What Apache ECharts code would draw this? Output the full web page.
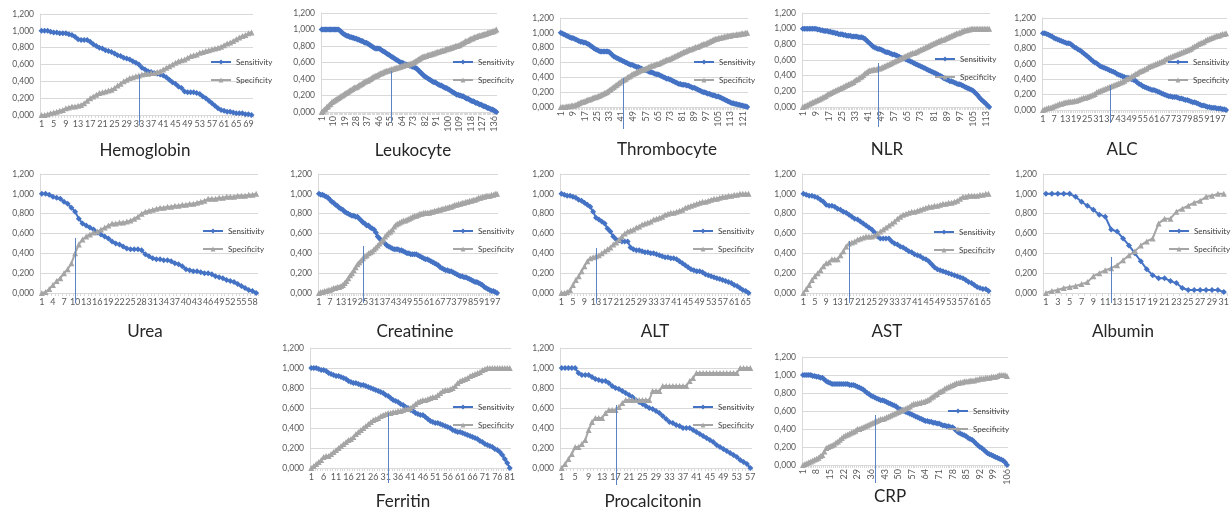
<!DOCTYPE html>
<html><head><meta charset="utf-8">
<script src="https://cdn.jsdelivr.net/npm/echarts@6/dist/echarts.min.js"></script>
<style>html,body{margin:0;padding:0;background:#fff}#c{width:1232px;height:510px}</style>
</head><body><div id="c"></div>
<script>
// ---------------- DATA ----------------
const panelNames = ['Hemoglobin','Leukocyte','Thrombocyte','NLR','ALC','Urea','Creatinine','ALT','AST','Albumin','Ferritin','Procalcitonin','CRP'];
const seriesNames = ['Sensitivity','Specificity'];
const yTickLabels = ['0,000','0,200','0,400','0,600','0,800','1,000','1,200'];

const hemoglobinSens = [1.00,1.00,1.00,0.99,0.98,0.98,0.97,0.97,0.97,0.96,0.95,0.93,0.90,0.89,0.89,0.89,0.87,0.84,0.82,0.80,0.79,0.77,0.76,0.75,0.73,0.71,0.70,0.68,0.67,0.66,0.64,0.62,0.60,0.56,0.54,0.52,0.51,0.50,0.49,0.48,0.47,0.45,0.42,0.39,0.37,0.34,0.32,0.28,0.27,0.27,0.27,0.26,0.25,0.22,0.20,0.17,0.14,0.11,0.08,0.06,0.05,0.04,0.04,0.03,0.02,0.02,0.02,0.01,0.01,0.00];
const hemoglobinSpec = [0.00,0.00,0.01,0.02,0.03,0.04,0.05,0.06,0.08,0.09,0.10,0.10,0.11,0.12,0.14,0.17,0.20,0.22,0.24,0.26,0.27,0.28,0.29,0.30,0.32,0.35,0.37,0.40,0.42,0.44,0.45,0.46,0.47,0.48,0.49,0.49,0.50,0.50,0.51,0.52,0.54,0.56,0.58,0.60,0.62,0.64,0.65,0.66,0.68,0.70,0.71,0.72,0.74,0.75,0.76,0.77,0.78,0.79,0.80,0.81,0.83,0.85,0.86,0.88,0.90,0.92,0.94,0.95,0.97,0.98];

const leukocyteSens = [1.00,1.00,1.00,1.00,1.00,1.00,1.00,1.00,1.00,1.00,1.00,1.00,1.00,1.00,0.99,0.98,
0.96,0.95,0.94,0.93,0.92,0.92,0.91,0.91,0.90,0.90,0.89,0.89,0.88,0.88,
0.87,0.86,0.86,0.85,0.84,0.84,0.83,0.82,0.81,0.80,0.79,0.78,0.77,0.77,0.77,0.77,
0.76,0.75,0.74,0.73,0.72,0.71,0.70,0.69,0.68,0.67,0.66,0.65,0.64,0.63,
0.62,0.61,0.60,0.60,0.59,0.58,0.58,0.57,0.57,0.56,0.56,0.55,0.55,0.54,0.53,
0.52,0.50,0.49,0.47,0.46,0.44,0.43,0.42,0.41,0.40,0.39,0.38,0.37,0.36,0.36,
0.35,0.34,0.33,0.32,0.32,0.31,0.30,0.29,0.29,0.28,0.27,0.26,0.25,0.24,0.23,
0.22,0.21,0.21,0.20,0.20,0.19,0.19,0.18,0.17,0.16,0.16,0.15,0.14,0.13,0.13,
0.12,0.11,0.11,0.10,0.09,0.09,0.08,0.07,0.07,0.06,0.05,0.05,0.04,0.03,0.03,0.02,0.01,0.00];
const leukocyteSpec = [0.00,0.01,0.03,0.04,0.06,0.07,0.09,0.10,0.12,0.13,0.14,0.15,0.16,0.17,0.18,
0.19,0.20,0.21,0.22,0.23,0.24,0.25,0.26,0.27,0.28,0.29,0.30,0.30,0.31,0.32,
0.33,0.34,0.35,0.36,0.37,0.38,0.38,0.39,0.40,0.41,0.42,0.43,0.44,0.44,0.45,
0.46,0.47,0.47,0.48,0.49,0.49,0.50,0.50,0.51,0.51,0.52,0.52,0.53,0.53,0.54,
0.54,0.55,0.55,0.56,0.56,0.57,0.57,0.57,0.58,0.58,0.59,0.59,0.60,0.61,0.62,
0.63,0.64,0.65,0.66,0.67,0.67,0.68,0.68,0.69,0.69,0.70,0.70,0.71,0.71,0.72,
0.72,0.73,0.73,0.74,0.74,0.75,0.75,0.76,0.76,0.77,0.77,0.78,0.78,0.79,0.79,
0.80,0.80,0.81,0.81,0.82,0.83,0.84,0.85,0.86,0.86,0.87,0.88,0.89,0.89,0.90,
0.91,0.91,0.92,0.92,0.93,0.93,0.94,0.94,0.95,0.95,0.96,0.96,0.97,0.97,0.98,0.98,0.99,1.00];

const thrombocyteSens = [1.00,0.99,0.98,0.97,0.96,0.95,0.94,0.93,
0.93,0.92,0.91,0.90,0.89,0.88,0.88,0.87,
0.87,0.86,0.85,0.84,0.82,0.81,0.79,0.78,
0.77,0.76,0.75,0.75,0.75,0.75,0.75,0.75,
0.74,0.72,0.70,0.68,0.67,0.66,0.65,0.64,
0.63,0.62,0.61,0.60,0.59,0.58,0.57,0.57,
0.56,0.55,0.54,0.54,0.53,0.52,0.51,0.50,
0.50,0.49,0.48,0.47,0.47,0.46,0.45,0.44,
0.44,0.43,0.42,0.41,0.40,0.39,0.38,0.38,
0.37,0.36,0.35,0.34,0.33,0.32,0.31,0.31,
0.30,0.30,0.30,0.29,0.29,0.28,0.27,0.26,
0.26,0.25,0.24,0.23,0.22,0.21,0.20,0.20,
0.19,0.18,0.18,0.17,0.16,0.16,0.15,0.14,
0.14,0.13,0.12,0.11,0.10,0.09,0.08,0.07,
0.06,0.05,0.05,0.04,0.04,0.03,0.03,0.02,
0.02,0.01,0.01,0.00];
const thrombocyteSpec = [0.00,0.00,0.00,0.00,0.01,0.01,0.01,0.02,
0.02,0.02,0.03,0.04,0.05,0.06,0.07,0.07,
0.08,0.09,0.10,0.10,0.11,0.12,0.13,0.13,
0.14,0.15,0.16,0.17,0.18,0.19,0.20,0.21,
0.23,0.24,0.26,0.27,0.29,0.30,0.32,0.33,
0.35,0.36,0.37,0.38,0.40,0.41,0.42,0.44,
0.45,0.46,0.47,0.48,0.49,0.50,0.51,0.51,
0.52,0.53,0.54,0.55,0.56,0.56,0.57,0.58,
0.58,0.59,0.60,0.61,0.62,0.63,0.64,0.64,
0.65,0.66,0.67,0.68,0.69,0.70,0.71,0.72,
0.73,0.74,0.75,0.76,0.77,0.78,0.78,0.79,
0.80,0.81,0.81,0.82,0.83,0.84,0.85,0.85,
0.86,0.87,0.88,0.89,0.90,0.91,0.92,0.92,
0.93,0.93,0.94,0.94,0.95,0.95,0.96,0.96,
0.96,0.97,0.97,0.97,0.98,0.98,0.98,0.99,
0.99,0.99,1.00,1.00];

const nlrSens = [1.00,1.00,1.00,1.00,1.00,1.00,1.00,1.00,1.00,0.99,
0.99,0.98,0.98,0.97,0.97,0.97,0.96,0.96,0.95,0.95,
0.94,0.94,0.93,0.93,0.93,0.92,0.92,0.91,0.91,0.91,
0.90,0.90,0.90,0.90,0.89,0.89,0.89,0.88,0.87,0.85,
0.83,0.81,0.79,0.77,0.76,0.75,0.74,0.74,0.73,0.72,
0.71,0.70,0.70,0.69,0.68,0.67,0.67,0.66,0.65,0.64,
0.63,0.62,0.62,0.61,0.60,0.59,0.58,0.57,0.56,0.55,
0.54,0.53,0.52,0.51,0.50,0.49,0.48,0.47,0.46,0.45,
0.44,0.43,0.42,0.41,0.40,0.39,0.37,0.36,0.35,0.34,
0.33,0.33,0.32,0.31,0.30,0.29,0.29,0.28,0.27,0.26,
0.25,0.24,0.23,0.22,0.21,0.19,0.17,0.15,0.12,0.10,
0.08,0.06,0.04,0.02,0.00];
const nlrSpec = [0.00,0.01,0.02,0.03,0.04,0.05,0.06,0.07,0.08,0.09,
0.10,0.11,0.12,0.13,0.14,0.16,0.17,0.18,0.19,0.20,
0.21,0.22,0.23,0.24,0.25,0.26,0.27,0.28,0.29,0.30,
0.31,0.32,0.34,0.35,0.36,0.38,0.39,0.41,0.43,0.44,
0.46,0.47,0.47,0.48,0.48,0.48,0.49,0.49,0.50,0.51,
0.52,0.53,0.54,0.55,0.56,0.57,0.58,0.59,0.60,0.61,
0.62,0.63,0.64,0.65,0.66,0.67,0.68,0.69,0.69,0.70,
0.71,0.72,0.73,0.74,0.75,0.76,0.77,0.78,0.79,0.80,
0.81,0.82,0.83,0.84,0.85,0.86,0.86,0.87,0.88,0.89,
0.90,0.91,0.92,0.93,0.94,0.94,0.95,0.96,0.97,0.98,
0.98,0.99,0.99,1.00,1.00,1.00,1.00,1.00,1.00,1.00,
1.00,1.00,1.00,1.00,1.00];

const alcSens = [1.00,1.00,0.99,0.98,0.97,0.96,0.94,0.93,0.92,0.91,
0.90,0.89,0.88,0.87,0.87,0.86,0.84,0.82,0.81,0.79,
0.78,0.76,0.74,0.72,0.70,0.68,0.66,0.64,0.62,0.61,
0.59,0.57,0.56,0.55,0.54,0.53,0.52,0.51,0.50,0.49,
0.47,0.46,0.45,0.44,0.43,0.42,0.42,0.41,0.40,0.39,
0.38,0.36,0.34,0.33,0.31,0.30,0.29,0.28,0.27,0.26,
0.26,0.25,0.24,0.23,0.22,0.21,0.20,0.19,0.18,0.18,
0.17,0.17,0.17,0.16,0.15,0.15,0.14,0.13,0.13,0.12,
0.11,0.10,0.10,0.09,0.08,0.07,0.06,0.06,0.05,0.04,
0.04,0.03,0.03,0.03,0.02,0.02,0.02,0.01,0.01,0.00];
const alcSpec = [0.00,0.01,0.02,0.03,0.03,0.04,0.05,0.06,0.07,0.08,
0.08,0.09,0.10,0.10,0.11,0.11,0.11,0.12,0.12,0.13,
0.14,0.15,0.16,0.16,0.17,0.18,0.19,0.20,0.21,0.23,
0.24,0.25,0.26,0.27,0.28,0.29,0.30,0.31,0.32,0.33,
0.34,0.35,0.36,0.37,0.38,0.40,0.41,0.42,0.44,0.45,
0.47,0.48,0.50,0.51,0.52,0.53,0.54,0.56,0.57,0.58,
0.59,0.60,0.61,0.62,0.63,0.64,0.66,0.67,0.68,0.69,
0.70,0.71,0.72,0.73,0.74,0.75,0.76,0.77,0.78,0.79,
0.80,0.82,0.83,0.84,0.86,0.87,0.88,0.89,0.91,0.92,
0.93,0.94,0.95,0.96,0.97,0.97,0.98,0.99,0.99,1.00];

const ureaSens = [1.00,1.00,0.99,0.97,0.96,0.95,0.92,0.90,0.86,0.82,
0.75,0.70,0.68,0.66,0.64,0.61,0.59,0.57,0.55,0.52,
0.50,0.49,0.47,0.45,0.44,0.44,0.44,0.43,0.39,0.37,
0.35,0.34,0.34,0.33,0.33,0.32,0.30,0.29,0.27,0.24,
0.23,0.22,0.22,0.21,0.20,0.20,0.19,0.17,0.16,0.15,
0.13,0.12,0.11,0.09,0.07,0.05,0.03,0.02,0.00];
const ureaSpec = [0.00,0.01,0.04,0.08,0.12,0.15,0.20,0.24,0.30,0.40,
0.49,0.54,0.57,0.59,0.61,0.62,0.64,0.66,0.68,0.70,
0.70,0.71,0.71,0.72,0.73,0.75,0.77,0.80,0.82,0.83,
0.84,0.85,0.86,0.86,0.87,0.87,0.88,0.88,0.89,0.89,
0.90,0.90,0.91,0.92,0.93,0.95,0.95,0.95,0.96,0.96,
0.97,0.97,0.97,0.98,0.98,0.98,0.99,0.99,1.00];

const creatinineSens = [1.00,0.99,0.99,0.98,0.97,0.96,0.94,0.92,0.91,0.89,
0.88,0.86,0.85,0.84,0.82,0.81,0.80,0.79,0.78,0.78,
0.77,0.77,0.75,0.73,0.71,0.70,0.68,0.68,0.66,0.65,
0.64,0.61,0.57,0.55,0.53,0.52,0.50,0.48,0.47,0.46,
0.45,0.44,0.44,0.44,0.43,0.43,0.42,0.41,0.40,0.40,
0.39,0.39,0.39,0.39,0.38,0.37,0.36,0.35,0.34,0.34,
0.33,0.32,0.31,0.30,0.29,0.28,0.26,0.25,0.24,0.23,
0.23,0.22,0.22,0.21,0.20,0.19,0.18,0.17,0.17,0.16,
0.16,0.15,0.14,0.13,0.12,0.11,0.11,0.10,0.09,0.08,
0.06,0.05,0.04,0.03,0.02,0.02,0.01,0.00];
const creatinineSpec = [0.00,0.01,0.01,0.02,0.02,0.03,0.03,0.04,0.05,0.05,
0.06,0.06,0.07,0.08,0.10,0.12,0.15,0.18,0.20,0.23,
0.26,0.29,0.31,0.33,0.35,0.37,0.38,0.40,0.41,0.42,
0.44,0.46,0.48,0.50,0.52,0.54,0.57,0.59,0.61,0.62,
0.64,0.67,0.69,0.70,0.71,0.72,0.73,0.73,0.74,0.75,
0.76,0.77,0.78,0.78,0.79,0.80,0.80,0.81,0.81,0.81,
0.81,0.82,0.82,0.83,0.83,0.84,0.84,0.85,0.85,0.86,
0.86,0.87,0.87,0.88,0.89,0.89,0.90,0.90,0.91,0.91,
0.92,0.92,0.93,0.93,0.94,0.94,0.95,0.96,0.96,0.97,
0.97,0.98,0.98,0.98,0.99,0.99,1.00,1.00];

const altSens = [1.00,0.99,0.98,0.98,0.97,0.96,0.94,0.93,0.91,0.89,
0.87,0.82,0.76,0.74,0.72,0.70,0.65,0.62,0.57,0.54,
0.53,0.52,0.52,0.52,0.46,0.44,0.43,0.43,0.42,0.41,
0.41,0.40,0.40,0.39,0.38,0.37,0.36,0.36,0.35,0.35,
0.34,0.32,0.30,0.28,0.26,0.24,0.23,0.22,0.22,0.21,
0.19,0.18,0.17,0.16,0.15,0.14,0.13,0.12,0.11,0.10,
0.08,0.07,0.05,0.03,0.02,0.00];
const altSpec = [0.00,0.00,0.01,0.03,0.08,0.13,0.17,0.22,0.27,0.32,
0.35,0.36,0.37,0.38,0.40,0.42,0.44,0.46,0.49,0.51,
0.54,0.57,0.60,0.62,0.63,0.64,0.66,0.67,0.69,0.70,
0.71,0.72,0.74,0.75,0.76,0.77,0.79,0.80,0.81,0.81,
0.82,0.83,0.84,0.86,0.87,0.88,0.89,0.90,0.91,0.92,
0.92,0.93,0.94,0.95,0.95,0.96,0.97,0.97,0.98,0.98,
0.99,0.99,1.00,1.00,1.00,1.00];

const astSens = [1.00,0.99,0.98,0.98,0.97,0.96,0.94,0.92,0.89,0.88,
0.88,0.87,0.85,0.84,0.82,0.81,0.79,0.77,0.75,0.74,
0.72,0.70,0.68,0.66,0.64,0.61,0.57,0.55,0.55,0.55,
0.55,0.52,0.50,0.49,0.47,0.46,0.44,0.42,0.41,0.39,
0.38,0.37,0.35,0.34,0.32,0.29,0.26,0.24,0.23,0.22,
0.21,0.20,0.19,0.18,0.17,0.16,0.15,0.13,0.11,0.10,
0.08,0.06,0.05,0.04,0.04,0.02];
const astSpec = [0.00,0.04,0.08,0.13,0.17,0.20,0.23,0.27,0.30,0.31,
0.34,0.34,0.34,0.38,0.42,0.47,0.50,0.51,0.52,0.54,
0.55,0.56,0.57,0.57,0.57,0.58,0.60,0.62,0.64,0.66,
0.68,0.70,0.72,0.75,0.77,0.79,0.80,0.81,0.82,0.82,
0.83,0.84,0.85,0.86,0.87,0.87,0.88,0.88,0.89,0.90,
0.90,0.91,0.91,0.92,0.93,0.95,0.97,0.97,0.98,0.98,
0.98,0.98,0.99,0.99,1.00,1.00];

const albuminSens = [1.00,1.00,1.00,1.00,1.00,0.97,0.92,0.88,0.84,0.79,0.77,0.64,0.62,0.55,0.48,0.40,0.32,0.24,0.18,0.15,0.15,0.12,0.10,0.05,0.03,0.03,0.03,0.03,0.03,0.03,0.01];
const albuminSpec = [0.00,0.02,0.03,0.05,0.06,0.07,0.09,0.11,0.17,0.20,0.23,0.25,0.28,0.33,0.38,0.42,0.48,0.52,0.55,0.70,0.75,0.75,0.82,0.85,0.88,0.91,0.93,0.97,0.98,1.00,1.00];

const ferritinSens = [1.00,1.00,1.00,0.99,0.98,0.98,0.97,0.95,0.94,0.93,
0.92,0.92,0.91,0.90,0.89,0.87,0.86,0.85,0.85,0.84,
0.83,0.83,0.82,0.81,0.80,0.79,0.78,0.77,0.76,0.75,
0.73,0.72,0.70,0.68,0.67,0.66,0.64,0.63,0.61,0.60,
0.58,0.57,0.55,0.54,0.53,0.53,0.51,0.49,0.47,0.46,
0.45,0.45,0.44,0.43,0.42,0.41,0.40,0.38,0.37,0.36,
0.36,0.35,0.34,0.33,0.32,0.31,0.30,0.29,0.27,0.26,
0.24,0.23,0.22,0.21,0.19,0.18,0.16,0.13,0.09,0.05,0.00];
const ferritinSpec = [0.00,0.02,0.04,0.06,0.08,0.11,0.12,0.12,0.14,0.16,
0.18,0.20,0.22,0.24,0.26,0.28,0.29,0.31,0.34,0.36,
0.38,0.40,0.42,0.44,0.46,0.48,0.49,0.50,0.52,0.53,
0.54,0.55,0.55,0.56,0.56,0.57,0.57,0.58,0.59,0.59,
0.60,0.62,0.64,0.66,0.67,0.68,0.68,0.69,0.70,0.71,
0.71,0.73,0.75,0.77,0.78,0.78,0.79,0.80,0.82,0.85,
0.87,0.88,0.89,0.90,0.92,0.93,0.94,0.95,0.96,0.98,
0.99,1.00,1.00,1.00,1.00,1.00,1.00,1.00,1.00,1.00,1.00];

const procalcitoninSens = [1.00,1.00,1.00,1.00,1.00,0.95,0.93,0.93,0.93,0.91,
0.89,0.88,0.87,0.87,0.85,0.82,0.80,0.79,0.77,0.75,
0.73,0.71,0.68,0.66,0.64,0.62,0.60,0.59,0.57,0.55,
0.52,0.49,0.46,0.45,0.43,0.42,0.40,0.40,0.40,0.38,
0.36,0.34,0.32,0.30,0.28,0.26,0.23,0.21,0.19,0.17,
0.15,0.13,0.11,0.08,0.06,0.04,0.00];
const procalcitoninSpec = [0.00,0.04,0.09,0.14,0.21,0.21,0.24,0.28,0.38,0.46,
0.50,0.50,0.50,0.55,0.58,0.58,0.58,0.61,0.65,0.68,
0.68,0.68,0.68,0.68,0.68,0.68,0.68,0.77,0.77,0.77,
0.82,0.82,0.82,0.82,0.82,0.82,0.82,0.82,0.87,0.90,
0.95,0.95,0.95,0.95,0.95,0.95,0.95,0.95,0.95,0.95,
0.95,0.95,0.95,1.00,1.00,1.00,1.00];

const crpSens = [1.00,1.00,1.00,1.00,1.00,0.99,0.99,0.98,0.98,0.97,
0.97,0.95,0.93,0.92,0.91,0.90,0.90,0.90,0.90,0.90,
0.90,0.90,0.90,0.90,0.89,0.89,0.89,0.88,0.87,0.86,
0.85,0.84,0.82,0.80,0.79,0.77,0.76,0.75,0.74,0.73,
0.72,0.72,0.71,0.70,0.69,0.68,0.67,0.66,0.65,0.63,
0.62,0.61,0.60,0.59,0.58,0.57,0.56,0.55,0.54,0.53,
0.52,0.51,0.50,0.49,0.49,0.48,0.48,0.47,0.47,0.46,
0.46,0.45,0.44,0.44,0.43,0.43,0.42,0.42,0.40,0.38,
0.36,0.35,0.34,0.33,0.32,0.30,0.29,0.28,0.26,0.24,
0.22,0.20,0.19,0.17,0.15,0.13,0.12,0.11,0.10,0.09,
0.08,0.07,0.06,0.05,0.03,0.00];
const crpSpec = [0.00,0.01,0.02,0.03,0.04,0.05,0.06,0.07,0.08,0.10,
0.11,0.15,0.19,0.20,0.21,0.22,0.23,0.25,0.26,0.28,
0.30,0.32,0.33,0.34,0.35,0.36,0.37,0.38,0.40,0.40,
0.41,0.42,0.43,0.44,0.45,0.46,0.47,0.48,0.49,0.50,
0.51,0.51,0.52,0.53,0.54,0.55,0.56,0.57,0.58,0.59,
0.60,0.61,0.62,0.63,0.64,0.65,0.67,0.68,0.68,0.69,
0.69,0.70,0.70,0.71,0.72,0.73,0.75,0.76,0.78,0.79,
0.81,0.82,0.83,0.85,0.86,0.87,0.88,0.89,0.90,0.91,
0.91,0.92,0.92,0.93,0.93,0.93,0.94,0.94,0.94,0.95,
0.95,0.96,0.96,0.96,0.97,0.97,0.97,0.98,0.98,0.98,
0.99,1.00,1.00,1.00,1.00,0.99];

// Cutoff marker per panel: category number and the height it reaches
const cutoffCategory = [33,55,42,47,37,10,25,13,17,12,32,17,38];
const cutoffValue = [0.47,0.50,0.39,0.56,0.33,0.55,0.47,0.45,0.52,0.36,0.55,0.63,0.56];

const sensData = [hemoglobinSens,leukocyteSens,thrombocyteSens,nlrSens,alcSens,ureaSens,creatinineSens,altSens,astSens,albuminSens,ferritinSens,procalcitoninSens,crpSens];
const specData = [hemoglobinSpec,leukocyteSpec,thrombocyteSpec,nlrSpec,alcSpec,ureaSpec,creatinineSpec,altSpec,astSpec,albuminSpec,ferritinSpec,procalcitoninSpec,crpSpec];

// ---------------- LAYOUT (positions / styles) ----------------
// [gridLeft, gridRight, gridTop, gridBottom, titleX, titleY, legendX, legendY, labelInterval, labelRotate, cutoffDrop]
const layout = [
  [40, 253, 14, 115, 145, 151, 210, 57, 3, 0, 10],
  [321, 497, 13, 112, 413, 151, 452, 57, 8, 90, 10],
  [560, 748, 18, 107, 667, 150, 693, 57, 7, 90, 22],
  [802, 990, 13, 107, 887, 150, 934, 54, 7, 90, 20],
  [1042, 1227, 18, 110, 1122, 150, 1167, 57, 5, 0, 13],
  [40, 258, 174, 293, 145, 332, 202, 226, 2, 0, 10],
  [318, 498, 174, 293, 415, 332, 452, 226, 5, 0, 10],
  [560, 750, 174, 293, 655, 332, 692, 226, 3, 0, 10],
  [802, 990, 174, 293, 887, 332, 933, 227, 3, 0, 10],
  [1043, 1230, 174, 293, 1123, 332, 1168, 226, 1, 0, 10],
  [310, 511, 348, 468, 403, 502, 452, 402, 4, 0, 15],
  [560, 752, 348, 468, 653, 502, 692, 402, 3, 0, 17],
  [802, 1008, 357, 465, 890, 497, 947, 406, 6, 90, 18]
];

const FONT = 'Lato, Carlito, "Open Sans", sans-serif';
const BLUE = '#4472C4', GRAY = '#A5A5A5', GRID = '#D9D9D9', CUT = '#5B84C6';

const grids = [], xAxes = [], yAxes = [], series = [], legends = [], graphics = [];
layout.forEach((L, i) => {
  const [gl, gr, gt, gb, tx, ty, lx, ly, lint, lrot, drop] = L;
  const n = sensData[i].length;
  const cats = Array.from({length: n}, (_, k) => String(k + 1));
  grids.push({left: gl, top: gt, width: gr - gl, height: gb - gt});
  xAxes.push({
    type: 'category', gridIndex: i, data: cats, boundaryGap: true,
    axisLine: {lineStyle: {color: GRID, width: 1}},
    axisTick: {show: true, interval: 0, length: 3, lineStyle: {color: GRID}},
    axisLabel: {interval: lint, rotate: lrot, fontSize: 9, color: '#595959', fontFamily: FONT, margin: lrot ? 4 : 5, hideOverlap: false},
    splitLine: {show: false}
  });
  yAxes.push({
    type: 'value', gridIndex: i, min: 0, max: 1.2, interval: 0.2,
    axisLine: {show: true, lineStyle: {color: GRID}},
    axisTick: {show: false},
    axisLabel: {fontSize: 8.5, color: '#595959', fontFamily: FONT, margin: 6,
      formatter: v => yTickLabels[Math.round(v / 0.2)]},
    splitLine: {lineStyle: {color: GRID, width: 1}}
  });
  series.push({
    name: seriesNames[0], type: 'line', xAxisIndex: i, yAxisIndex: i, data: sensData[i],
    symbol: 'diamond', symbolSize: 6, showAllSymbol: true,
    lineStyle: {color: BLUE, width: 2}, itemStyle: {color: BLUE}, z: 3
  });
  series.push({
    name: seriesNames[1], type: 'line', xAxisIndex: i, yAxisIndex: i, data: specData[i],
    symbol: 'triangle', symbolSize: 6, showAllSymbol: true,
    lineStyle: {color: GRAY, width: 2}, itemStyle: {color: GRAY}, z: 3
  });
  series.push({
    name: 'cutoff', type: 'custom', xAxisIndex: i, yAxisIndex: i, clip: false, silent: true, z: 4,
    data: [[String(cutoffCategory[i]), cutoffValue[i]]],
    itemStyle: {color: CUT},
    renderItem: (params, api) => {
      const top = api.coord([api.value(0), api.value(1)]);
      const base = api.coord([api.value(0), 0]);
      const x = Math.round(top[0]);
      return {type: 'rect', shape: {x: x, y: Math.round(top[1]), width: 1, height: Math.round(base[1] + drop - top[1])},
        style: {fill: CUT, stroke: null, lineWidth: 0}};
    }
  });
  legends.push({
    data: seriesNames, orient: 'vertical', left: lx, top: ly, padding: 0,
    itemWidth: 20, itemHeight: 6, itemGap: 8, selectedMode: false,
    textStyle: {fontSize: 8, color: '#404040', fontFamily: FONT, lineHeight: 10}
  });
  graphics.push({
    type: 'text', x: tx, y: ty,
    style: {text: panelNames[i], font: '17px ' + FONT, fill: '#262626', align: 'center', verticalAlign: 'middle'}
  });
});

const chart = echarts.init(document.getElementById('c'), null, {renderer: 'canvas'});
chart.setOption({
  animation: false, backgroundColor: '#fff',
  grid: grids, xAxis: xAxes, yAxis: yAxes, series: series, legend: legends, graphic: graphics
});
</script></body></html>
